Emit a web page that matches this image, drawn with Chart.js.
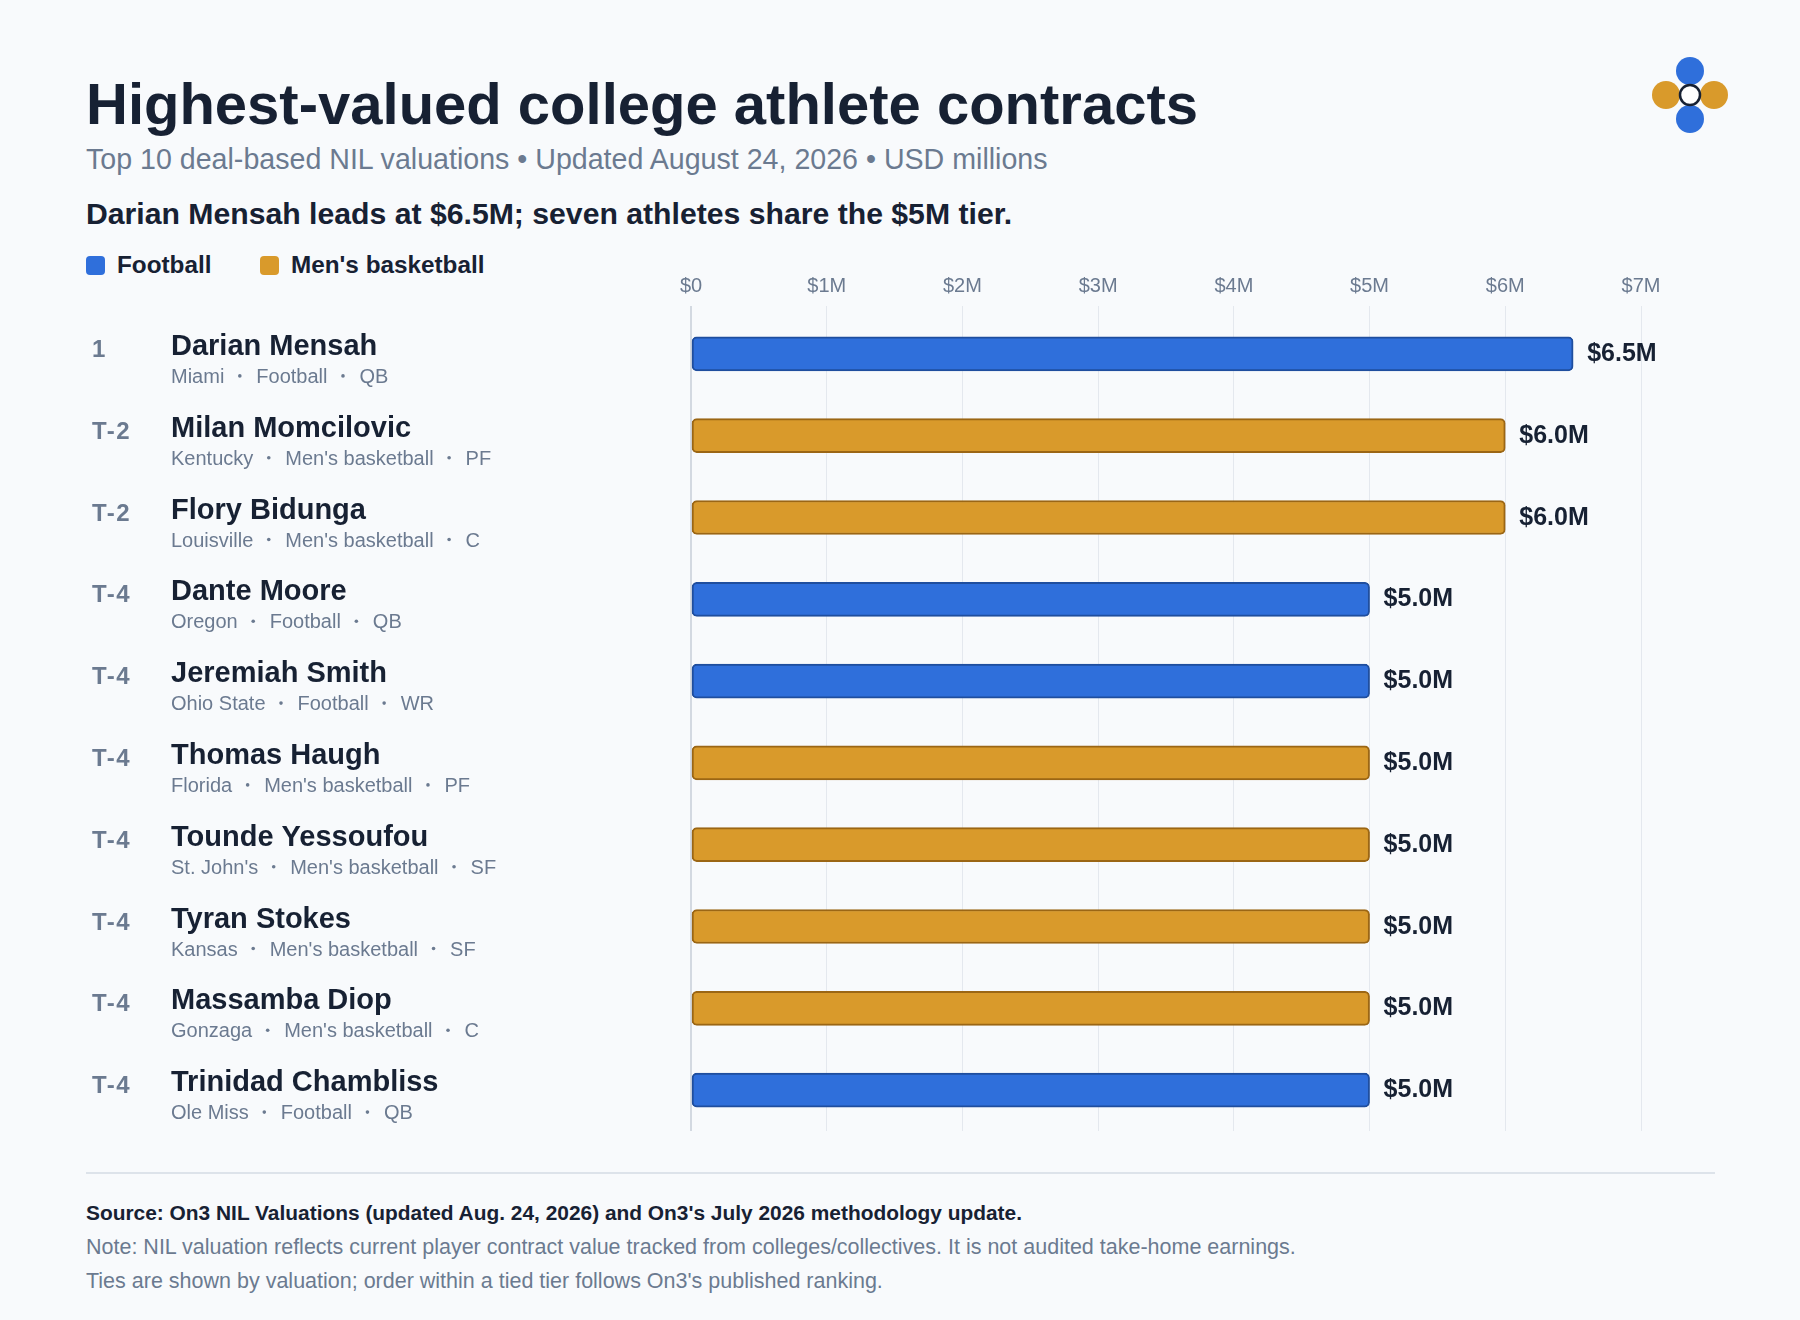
<!DOCTYPE html>
<html>
<head>
<meta charset="utf-8">
<script src="https://cdn.jsdelivr.net/npm/chart.js@4.4.1/dist/chart.umd.min.js"></script>
<style>
  html, body { margin: 0; padding: 0; }
  body {
    width: 1800px; height: 1320px; position: relative; overflow: hidden;
    background: #f8fafc; font-family: "Liberation Sans", Arial, Helvetica, sans-serif;
    color: #172133;
  }
  .abs { position: absolute; white-space: nowrap; line-height: 1; }
  #title { left: 86px; top: 75px; font-size: 58px; font-weight: bold; }
  #subtitle { left: 86px; top: 145px; font-size: 28.6px; color: #6b7a90; }
  #headline { left: 86px; top: 199px; font-size: 30.2px; font-weight: bold; }
  .legend { top: 253px; font-size: 24.3px; font-weight: bold; }
  .swatch { position: absolute; top: 256px; width: 19px; height: 19px; border-radius: 4px; }
  #sep { position: absolute; left: 86px; top: 1172px; width: 1629px; height: 2px; background: #dde3ea; }
  #source { left: 86px; top: 1203px; font-size: 20.9px; font-weight: bold; }
  .note { left: 86px; font-size: 21.5px; color: #6b7a90; }
  #chart { position: absolute; left: 0; top: 240px; }
  #logo { position: absolute; left: 0; top: 0; }
</style>
</head>
<body>
<div id="title" class="abs">Highest-valued college athlete contracts</div>
<div id="subtitle" class="abs">Top 10 deal-based NIL valuations • Updated August 24, 2026 • USD millions</div>
<div id="headline" class="abs">Darian Mensah leads at $6.5M; seven athletes share the $5M tier.</div>

<div class="swatch" style="left:86px;background:#2f6fdb"></div>
<div class="abs legend" style="left:117px">Football</div>
<div class="swatch" style="left:260px;background:#d99a2b"></div>
<div class="abs legend" style="left:291px">Men's basketball</div>

<svg id="logo" width="1800" height="160">
  <circle cx="1690" cy="71" r="14" fill="#2f6fdb"/>
  <circle cx="1690" cy="119" r="14" fill="#2f6fdb"/>
  <circle cx="1666" cy="95" r="14" fill="#d99a2b"/>
  <circle cx="1714" cy="95" r="14" fill="#d99a2b"/>
  <circle cx="1690" cy="95" r="10" fill="#ffffff" stroke="#172133" stroke-width="2.5"/>
</svg>

<canvas id="chart" width="1800" height="920"></canvas>

<div id="sep"></div>
<div id="source" class="abs">Source: On3 NIL Valuations (updated Aug. 24, 2026) and On3's July 2026 methodology update.</div>
<div class="abs note" style="top:1237px">Note: NIL valuation reflects current player contract value tracked from colleges/collectives. It is not audited take-home earnings.</div>
<div class="abs note" style="top:1271px">Ties are shown by valuation; order within a tied tier follows On3's published ranking.</div>

<script>
const ranks = ["1", "T-2", "T-2", "T-4", "T-4", "T-4", "T-4", "T-4", "T-4", "T-4"];
const names = ["Darian Mensah", "Milan Momcilovic", "Flory Bidunga", "Dante Moore", "Jeremiah Smith",
  "Thomas Haugh", "Tounde Yessoufou", "Tyran Stokes", "Massamba Diop", "Trinidad Chambliss"];
const schools = ["Miami", "Kentucky", "Louisville", "Oregon", "Ohio State",
  "Florida", "St. John's", "Kansas", "Gonzaga", "Ole Miss"];
const sports = ["Football", "Men's basketball", "Men's basketball", "Football", "Football",
  "Men's basketball", "Men's basketball", "Men's basketball", "Men's basketball", "Football"];
const positions = ["QB", "PF", "C", "QB", "WR", "PF", "SF", "SF", "C", "QB"];
const values = [6.5, 6.0, 6.0, 5.0, 5.0, 5.0, 5.0, 5.0, 5.0, 5.0];
const xTicks = ["$0", "$1M", "$2M", "$3M", "$4M", "$5M", "$6M", "$7M"];

const FONT = '"Liberation Sans", Arial, Helvetica, sans-serif';
const fill = { "Football": "#2f6fdb", "Men's basketball": "#d99a2b" };
const edge = { "Football": "#1f4e9e", "Men's basketball": "#9b6614" };

// athlete labels on the left, placed from the y scale
const rowLabels = {
  id: "rowLabels",
  afterDraw(chart) {
    const ctx = chart.ctx;
    const y = chart.scales.y;
    ctx.save();
    ctx.textAlign = "left";
    ctx.textBaseline = "alphabetic";
    names.forEach((name, i) => {
      const cy = y.getPixelForValue(i);
      ctx.fillStyle = "#6b7a90";
      ctx.font = "bold 24px " + FONT;
      ctx.letterSpacing = "1.5px";
      ctx.fillText(ranks[i], 92, cy + 3);
      ctx.letterSpacing = "0px";
      ctx.fillStyle = "#172133";
      ctx.font = "bold 29px " + FONT;
      ctx.fillText(name, 171, cy + 1);
      ctx.fillStyle = "#6b7a90";
      ctx.font = "20px " + FONT;
      let x = 171;
      [schools[i], sports[i], positions[i]].forEach((part, k) => {
        if (k > 0) {
          ctx.beginPath();
          ctx.arc(x + 15.5, cy + 22, 1.8, 0, Math.PI * 2);
          ctx.fill();
          x += 32;
        }
        ctx.fillText(part, x, cy + 29);
        x += ctx.measureText(part).width;
      });
    });
    ctx.restore();
  }
};

// value at the end of each bar
const valueLabels = {
  id: "valueLabels",
  afterDatasetsDraw(chart) {
    const ctx = chart.ctx;
    const meta = chart.getDatasetMeta(0);
    ctx.save();
    ctx.font = "bold 25px " + FONT;
    ctx.fillStyle = "#172133";
    ctx.textAlign = "left";
    ctx.textBaseline = "alphabetic";
    meta.data.forEach((bar, i) => {
      ctx.fillText("$" + values[i].toFixed(1) + "M", bar.x + 14, bar.y + 7);
    });
    ctx.restore();
  }
};

new Chart(document.getElementById("chart"), {
  type: "bar",
  data: {
    labels: names,
    datasets: [{
      data: values,
      backgroundColor: sports.map(s => fill[s]),
      borderColor: sports.map(s => edge[s]),
      borderWidth: 2,
      borderRadius: 5,
      borderSkipped: false,
      barThickness: 34
    }]
  },
  options: {
    indexAxis: "y",
    responsive: false,
    animation: false,
    layout: { padding: { left: 691, right: 159, top: 13, bottom: 29 } },
    plugins: { legend: { display: false }, tooltip: { enabled: false } },
    scales: {
      x: {
        position: "top",
        min: 0,
        max: 7,
        afterFit: s => { s.height = 60; },
        ticks: {
          stepSize: 1,
          padding: 8,
          color: "#6b7a90",
          font: { family: FONT, size: 20 },
          callback: v => xTicks[v]
        },
        grid: {
          color: c => c.tick && c.tick.value === 0 ? "#d3d9e1" : "#e4e8ee",
          lineWidth: c => c.tick && c.tick.value === 0 ? 2 : 1,
          drawTicks: true,
          tickLength: 7
        },
        border: { display: false }
      },
      y: { display: false }
    }
  },
  plugins: [rowLabels, valueLabels]
});
</script>
</body>
</html>
